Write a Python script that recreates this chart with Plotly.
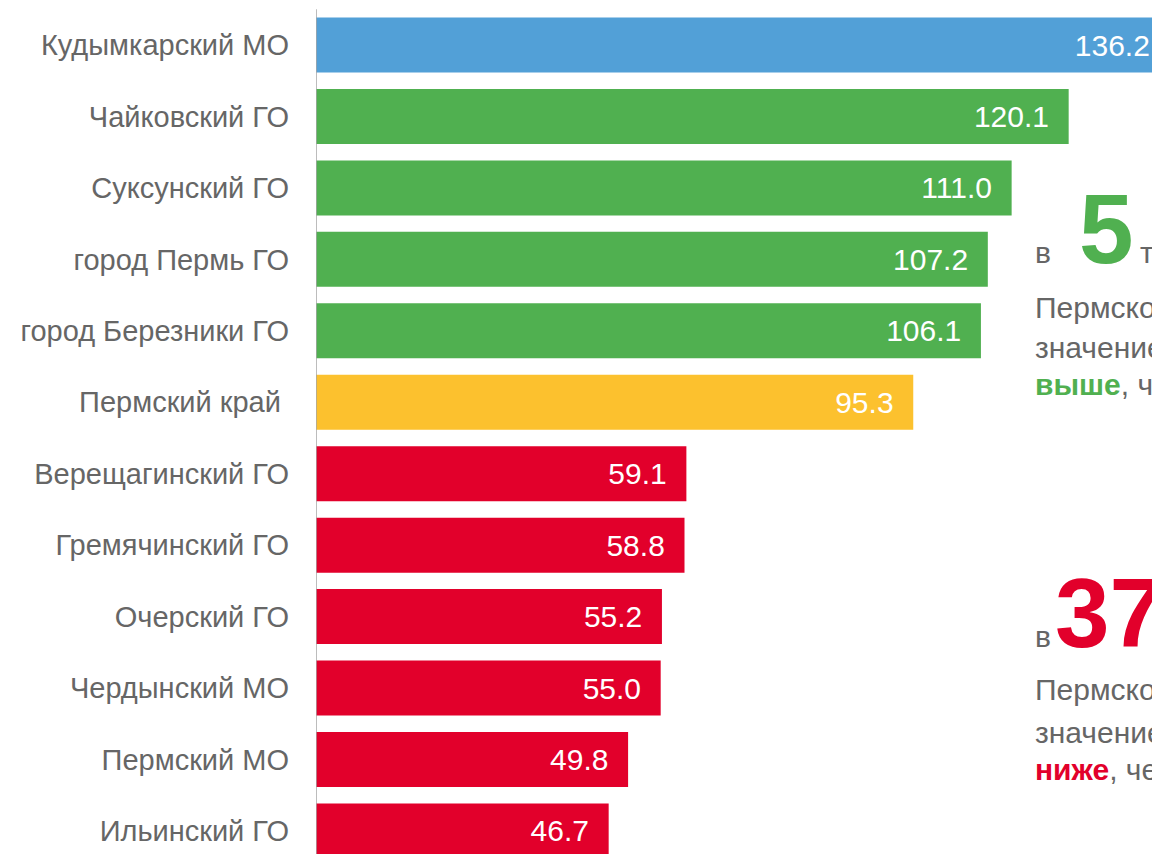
import plotly.graph_objects as go

categories = ["Кудымкарский МО", "Чайковский ГО", "Суксунский ГО", "город Пермь ГО",
              "город Березники ГО", "Пермский край\u00a0", "Верещагинский ГО", "Гремячинский ГО",
              "Очерский ГО", "Чердынский МО", "Пермский МО", "Ильинский ГО"]
values = [136.2, 120.1, 111.0, 107.2, 106.1, 95.3, 59.1, 58.8, 55.2, 55.0, 49.8, 46.7]
groups = ["max", "above", "above", "above", "above", "region",
          "below", "below", "below", "below", "below", "below"]

above_count = "5"
below_count = "37"

palette = {"max": "#52A0D7", "above": "#50B050", "region": "#FCC12E", "below": "#E2002B"}
GREEN = palette["above"]
RED = palette["below"]
GRAY = "#666666"

W, H = 1160, 854
OFF = 8            # page offset of the figure (body margin)
L = 316 - OFF      # left margin in figure pixels
SCALE = 6.267      # pixels per unit
ROW = 71.45        # pixels per category row
FONT = "Liberation Sans, Arial, sans-serif"

fig = go.Figure()
fig.add_trace(go.Bar(
    y=categories, x=values, orientation="h",
    marker=dict(color=[palette[g] for g in groups], line=dict(width=0)),
    width=0.77,
    text=[f"{v:.1f}\u00a0\u00a0" for v in values],
    textposition="inside", insidetextanchor="end",
    textfont=dict(color="white", size=30, family=FONT),
    cliponaxis=True,
    hoverinfo="skip",
))

n = len(categories)
fig.add_shape(type="line", xref="x", yref="y", x0=0, x1=0, y0=-0.5, y1=n - 0.5,
              line=dict(color="#A6A6A6", width=1.5), layer="above")


def px(x):
    return (x - OFF - L) / (W - L)


def py(y):
    return 1 - (y - OFF) / H


def ann(x, y_base, text, size, color, bold=False):
    t = f"<b>{text}</b>" if bold else text
    fig.add_annotation(xref="paper", yref="paper", x=px(x), y=py(y_base - 0.3465 * size),
                       xanchor="left", yanchor="middle", text=t, showarrow=False,
                       font=dict(size=size, color=color, family=FONT), align="left")


# upper block
ann(1033, 263, "в", 30, GRAY)
ann(1077, 263, above_count, 98, GREEN, bold=True)
ann(1138, 263, "территориях", 30, GRAY)
ann(1033, 318, "Пермского края", 30, GRAY)
ann(1033, 358, "значение показателя", 30, GRAY)
ann(1033, 395, f"<b><span style='color:{GREEN}'>выше</span></b>, чем в среднем по краю", 30, GRAY)

# lower block
ann(1033, 647, "в", 30, GRAY)
ann(1053, 647, below_count, 98, RED, bold=True)
ann(1033, 700, "Пермского края", 30, GRAY)
ann(1033, 743, "значение показателя", 30, GRAY)
ann(1033, 780, f"<b><span style='color:{RED}'>ниже</span></b>, чем в среднем по краю", 30, GRAY)

top_px = 45 - OFF
fig.update_layout(
    width=W, height=H,
    margin=dict(l=L, r=0, t=0, b=0),
    paper_bgcolor="white", plot_bgcolor="white",
    showlegend=False,
    xaxis=dict(range=[0, (W - L) / SCALE], visible=False, fixedrange=True),
    yaxis=dict(range=[(H - top_px) / ROW, -top_px / ROW], showgrid=False, zeroline=False,
               showline=False, ticks="",
               tickfont=dict(size=29, color=GRAY, family=FONT),
               ticklabelstandoff=26),
    uniformtext=dict(mode=False),
)

fig.write_html("out.html")
